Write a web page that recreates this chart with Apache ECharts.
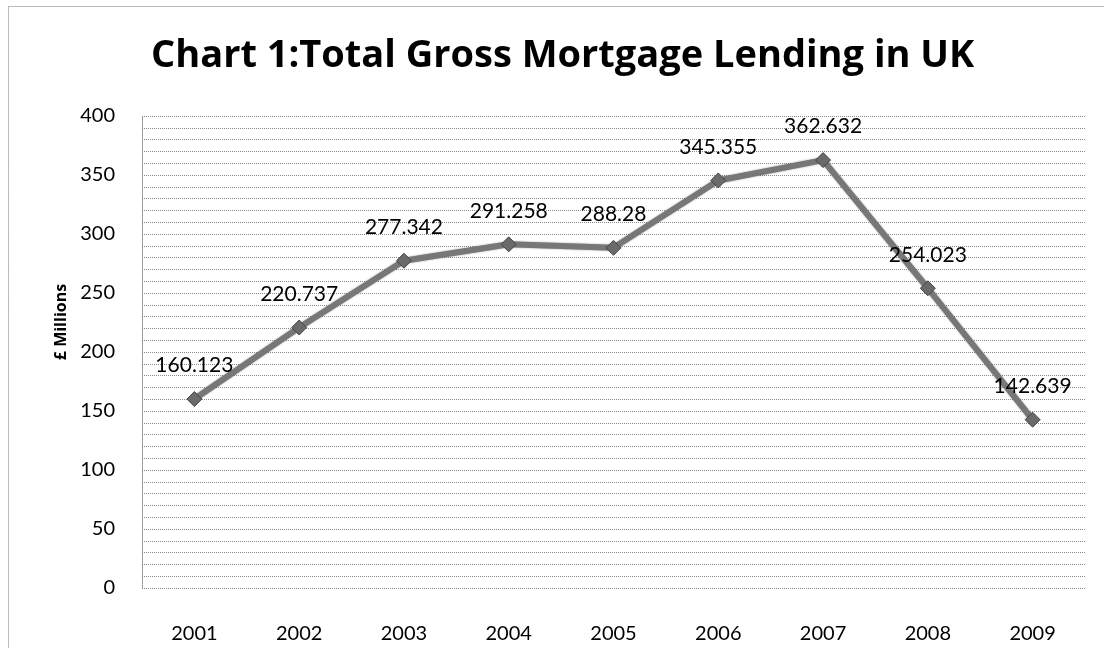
<!DOCTYPE html>
<html>
<head>
<meta charset="utf-8">
<script src="https://cdn.jsdelivr.net/npm/echarts@6/dist/echarts.min.js"></script>
<style>
  html, body { margin: 0; padding: 0; background: #fff; }
  #chart { width: 1104px; height: 648px; }
</style>
</head>
<body>
<div id="chart"></div>
<script>
// Total gross mortgage lending in the UK, 2001-2009
const years = ['2001', '2002', '2003', '2004', '2005', '2006', '2007', '2008', '2009'];
const lending = [160.123, 220.737, 277.342, 291.258, 288.28, 345.355, 362.632, 254.023, 142.639];
const yTicks = [0, 50, 100, 150, 200, 250, 300, 350, 400];

const chart = echarts.init(document.getElementById('chart'), null, { renderer: 'canvas' });

const gridDots = { color: '#8a8a8a', width: 1, type: [1, 1] };

chart.setOption({
  backgroundColor: '#ffffff',
  animation: false,
  title: {
    text: 'Chart 1:Total Gross Mortgage Lending in UK',
    left: 146,
    top: 32,
    textStyle: {
      fontFamily: 'Open Sans',
      fontWeight: 'bold',
      fontSize: 38,
      color: '#000'
    }
  },
  graphic: [{
    type: 'rect',
    shape: { x: 8.5, y: 6.5, width: 1200, height: 700 },
    style: { fill: 'none', stroke: '#777', lineWidth: 1, lineDash: [1, 1] },
    silent: true
  }],
  grid: { left: 142, right: 19, top: 116, bottom: 60 },
  xAxis: {
    type: 'category',
    data: years,
    boundaryGap: true,
    axisLine: { show: false },
    axisTick: { show: false },
    axisLabel: {
      fontFamily: 'Lato', fontSize: 20, color: '#000', margin: 36
    }
  },
  yAxis: {
    type: 'value',
    min: yTicks[0],
    max: yTicks[yTicks.length - 1],
    interval: 50,
    name: '£ Millions',
    nameLocation: 'middle',
    nameGap: 44,
    nameTextStyle: {
      fontFamily: 'Open Sans', fontWeight: 'bold', fontSize: 16, color: '#000',
      padding: [0, 0, 0, 60]
    },
    axisLine: { show: true, lineStyle: gridDots },
    axisTick: { show: false },
    axisLabel: {
      fontFamily: 'Lato', fontSize: 20, color: '#000', margin: 27
    },
    splitLine: { show: true, lineStyle: gridDots },
    minorTick: { show: false, splitNumber: 5 },
    minorSplitLine: { show: true, lineStyle: gridDots }
  },
  series: [{
    type: 'line',
    data: lending,
    symbol: 'diamond',
    symbolSize: 15,
    lineStyle: { color: '#777', width: 6, shadowColor: 'rgba(0,0,0,0.4)', shadowBlur: 2 },
    itemStyle: { color: '#6a6a6a', borderColor: '#444', borderWidth: 1 },
    label: {
      show: true,
      position: 'top',
      distance: 15,
      fontFamily: 'Lato',
      fontSize: 21,
      color: '#000',
      formatter: p => String(p.value)
    },
    z: 5
  }]
});
</script>
</body>
</html>
